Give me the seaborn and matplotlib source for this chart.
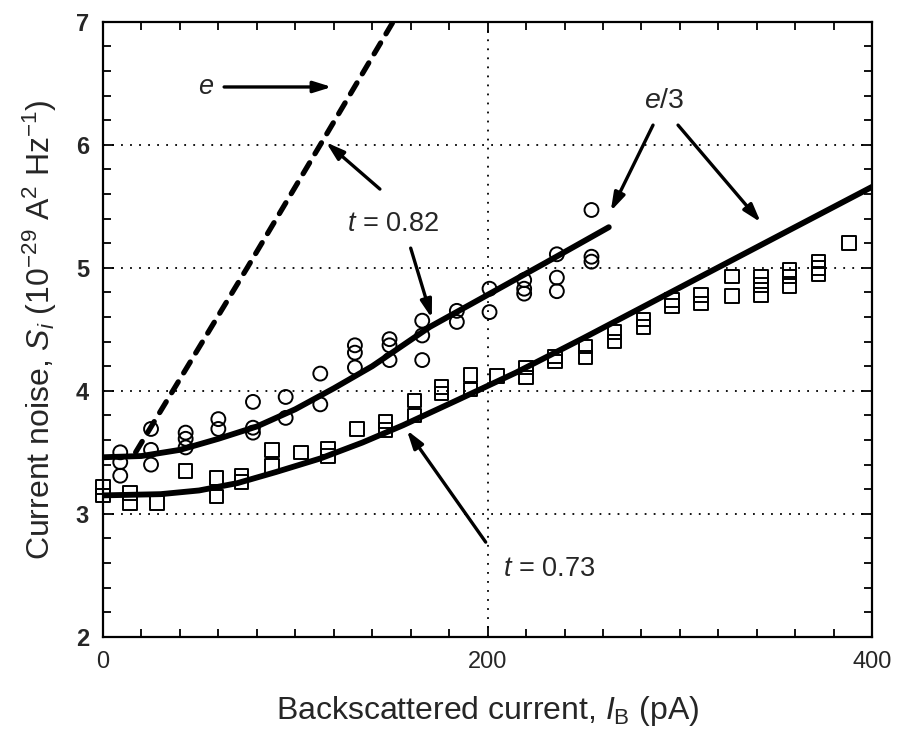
import numpy as np
import pandas as pd
import matplotlib
matplotlib.use("Agg")
import matplotlib.pyplot as plt
import seaborn as sns

sns.set_theme(style="white")
plt.rcParams['font.family'] = ['Liberation Sans', 'DejaVu Sans']
plt.rcParams['mathtext.fontset'] = 'custom'
plt.rcParams['mathtext.rm'] = 'Liberation Sans'
plt.rcParams['mathtext.it'] = 'Liberation Sans:italic'

# ---- data: t = 0.82 (circles) ----
circ_x = [9, 9, 9, 25, 25, 25, 43, 43, 43, 60, 60, 78, 78, 78, 95, 95,
          113, 113, 131, 131, 131, 149, 149, 149, 166, 166, 166, 184, 184,
          201, 201, 219, 219, 219, 236, 236, 236, 254, 254, 254]
circ_y = [3.50, 3.42, 3.31, 3.69, 3.52, 3.40, 3.66, 3.61, 3.54, 3.77, 3.69,
          3.91, 3.70, 3.66, 3.95, 3.78, 4.14, 3.89, 4.37, 4.31, 4.19,
          4.42, 4.37, 4.25, 4.57, 4.45, 4.25, 4.65, 4.56, 4.83, 4.64,
          4.90, 4.83, 4.79, 5.11, 4.92, 4.81, 5.47, 5.09, 5.05]

# ---- data: t = 0.73 (squares) ----
sq_x = [0, 0, 14, 14, 28, 43, 59, 59, 72, 72, 88, 88, 103, 117, 117, 132,
        147, 147, 162, 162, 176, 176, 191, 191, 205, 220, 220, 235, 235,
        251, 251, 266, 266, 281, 281, 296, 296, 311, 311, 327, 327,
        342, 342, 342, 357, 357, 357, 372, 372, 372, 388]
sq_y = [3.22, 3.15, 3.17, 3.09, 3.09, 3.35, 3.29, 3.14, 3.31, 3.26, 3.52, 3.39,
        3.50, 3.53, 3.47, 3.69, 3.75, 3.68, 3.92, 3.80, 4.03, 3.98, 4.13, 4.01,
        4.12, 4.19, 4.11, 4.28, 4.24, 4.36, 4.27, 4.48, 4.40, 4.58, 4.52,
        4.74, 4.69, 4.78, 4.71, 4.93, 4.77, 4.93, 4.86, 4.78, 4.98, 4.93, 4.85,
        5.05, 5.00, 4.95, 5.20]

# ---- fitted curves (e/3) ----
fit82_x = [0, 20, 40, 60, 80, 100, 120, 140, 170, 200, 230, 263]
fit82_y = [3.46, 3.47, 3.52, 3.61, 3.71, 3.85, 4.02, 4.20, 4.52, 4.78, 5.04, 5.33]
fit73_x = [0, 30, 50, 70, 90, 113, 135, 156, 185, 215, 250, 300, 350, 405]
fit73_y = [3.15, 3.16, 3.19, 3.25, 3.34, 3.45, 3.58, 3.72, 3.93, 4.15, 4.43, 4.84, 5.25, 5.70]

# ---- charge e prediction (dashed) ----
e_x = [17, 75, 113, 152]
e_y = [3.50, 5.00, 6.00, 7.03]

x_ticks = [0, 200, 400]
y_ticks = [2, 3, 4, 5, 6, 7]

fig = plt.figure(figsize=(9.03, 7.51), dpi=100)
ax = fig.add_axes([0.114, 0.152, 0.852, 0.819])

ax.set_xlim(0, 400)
ax.set_ylim(2, 7)

# grid (dotted)
for gx in [200]:
    ax.axvline(gx, color='black', lw=1.3, ls=(0, (1, 4)), zorder=1)
for gy in [3, 4, 5, 6]:
    ax.axhline(gy, color='black', lw=1.3, ls=(0, (1, 4)), zorder=1)

sns.lineplot(x=fit82_x, y=fit82_y, ax=ax, color='black', lw=4.2,
             estimator=None, sort=False, zorder=3)
sns.lineplot(x=fit73_x, y=fit73_y, ax=ax, color='black', lw=4.2,
             estimator=None, sort=False, zorder=3)
sns.lineplot(x=e_x, y=e_y, ax=ax, color='black', lw=3.8,
             estimator=None, sort=False, zorder=3)
ax.lines[-1].set_dashes([2.4, 2.0])
ax.lines[-1].set_dash_capstyle('round')

sns.scatterplot(x=circ_x, y=circ_y, ax=ax, marker='o', s=100,
                facecolor='none', edgecolor='black', linewidth=1.4, zorder=4,
                clip_on=False)
sns.scatterplot(x=sq_x, y=sq_y, ax=ax, marker='s', s=95,
                facecolor='none', edgecolor='black', linewidth=1.4, zorder=4,
                clip_on=False)

# annotations
aprops = dict(arrowstyle='-|>,head_length=0.9,head_width=0.28', lw=2.4,
              color='black', shrinkA=0, shrinkB=0)
tfs = 19.5
ax.text(53.5, 6.47, r'$e$', fontsize=tfs, ha='center', va='center')
ax.annotate('', xy=(119, 6.47), xytext=(63, 6.47), arrowprops=aprops)

ax.text(151, 5.36, r'$t$ = 0.82', fontsize=tfs, ha='center', va='center')
ax.annotate('', xy=(116, 6.02), xytext=(144, 5.64), arrowprops=aprops)
ax.annotate('', xy=(171, 4.59), xytext=(160, 5.16), arrowprops=aprops)

ax.text(232, 2.55, r'$t$ = 0.73', fontsize=tfs, ha='center', va='center')
ax.annotate('', xy=(158, 3.68), xytext=(199, 2.77), arrowprops=aprops)

ax.text(292, 6.36, r'$e$/3', fontsize=tfs + 1, ha='center', va='center')
ax.annotate('', xy=(264, 5.46), xytext=(286, 6.16), arrowprops=aprops)
ax.annotate('', xy=(342, 5.37), xytext=(299, 6.16), arrowprops=aprops)

# ticks
ax.set_xticks(x_ticks)
ax.set_yticks(y_ticks)
ax.set_xticks(np.arange(0, 401, 20), minor=True)
ax.set_yticks(np.arange(2, 7.01, 0.2), minor=True)
ax.tick_params(which='both', direction='in', top=True, right=True,
               bottom=True, left=True, color='black', width=1.3)
ax.tick_params(which='major', length=8, labelsize=17, pad=10)
ax.tick_params(which='minor', length=6)
for lab in ax.get_yticklabels():
    lab.set_fontweight('bold')

for sp in ax.spines.values():
    sp.set_color('black')
    sp.set_linewidth(1.6)

ax.set_xlabel(r'Backscattered current, $I_{\rm B}$ (pA)', fontsize=23, labelpad=15)
ax.set_ylabel(r'Current noise, $S_i$ (10$^{-29}$ A$^2$ Hz$^{-1}$)', fontsize=23, labelpad=12)

fig.savefig('out.png', dpi=100, facecolor='white')
